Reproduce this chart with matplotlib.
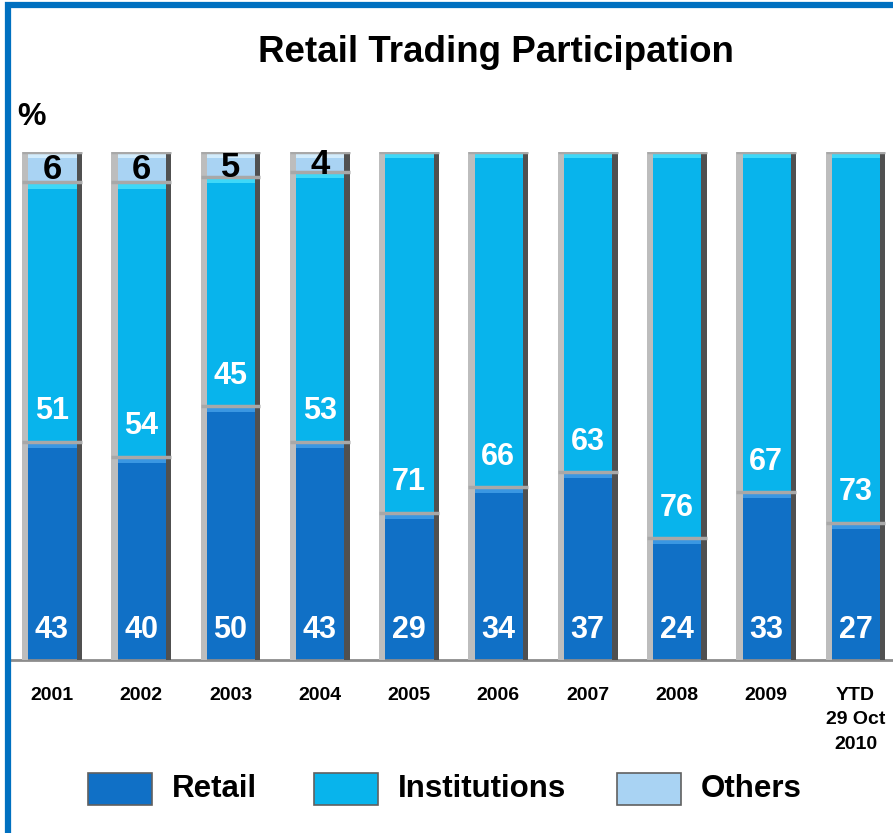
import numpy as np
import matplotlib.pyplot as plt
from matplotlib.patches import Rectangle

years = ["2001", "2002", "2003", "2004", "2005", "2006", "2007", "2008", "2009",
         "YTD\n29 Oct\n2010"]
retail = [43, 40, 50, 43, 29, 34, 37, 24, 33, 27]
institutions = [51, 54, 45, 53, 71, 66, 63, 76, 67, 73]
others = [6, 6, 5, 4, 0, 0, 0, 0, 0, 0]

c_retail = "#1070C6"
c_inst = "#08B4EC"
c_others = "#A9D3F3"
top_retail = "#3A97E2"
top_inst = "#3ED8F8"
top_others = "#D2ECFC"

plt.rcParams["font.family"] = ["Liberation Sans", "DejaVu Sans"]

fig = plt.figure(figsize=(8.93, 8.33), dpi=100)
ax = fig.add_axes([10/893, 1 - 660/833, 883/893, 508/833])

x = np.arange(len(years))
w = 0.67


def seg(xc, y0, h, face, top):
    # one bevelled segment
    ax.bar(xc, h, w, bottom=y0, color=face, edgecolor="none", zorder=2)
    bev = min(1.2, h * 0.3)
    ax.bar(xc, bev, w, bottom=y0 + h - bev, color=top, edgecolor="none", zorder=3)
    # side rims
    ax.bar(xc - w/2 + 0.035, h, 0.07, bottom=y0, color="#BDBDBD", edgecolor="none", zorder=4)
    ax.bar(xc + w/2 - 0.03, h, 0.06, bottom=y0, color="#505050", edgecolor="none", zorder=4)
    # top separator
    ax.plot([xc - w/2, xc + w/2], [y0 + h, y0 + h], color="#A8A8A8", lw=2.5,
            zorder=5, solid_capstyle="butt")


for i in x:
    seg(i, 0, retail[i], c_retail, top_retail)
    seg(i, retail[i], institutions[i], c_inst, top_inst)
    if others[i] > 0:
        seg(i, retail[i] + institutions[i], others[i], c_others, top_others)
        ax.text(i, retail[i] + institutions[i] + others[i] / 2 - 0.5, str(others[i]),
                ha="center", va="center", fontsize=25, fontweight="bold",
                color="black", zorder=6)
    ax.text(i, 6, str(retail[i]), ha="center", va="center", fontsize=22,
            fontweight="bold", color="white", zorder=6)
    ax.text(i, retail[i] + 6, str(institutions[i]), ha="center", va="center",
            fontsize=22, fontweight="bold", color="white", zorder=6)

ax.set_xlim(-0.47, 9.42)
ax.set_ylim(0, 100)
for s in ["top", "right", "left"]:
    ax.spines[s].set_visible(False)
ax.spines["bottom"].set_color("#8C8C8C")
ax.spines["bottom"].set_linewidth(2)
ax.set_yticks([])
ax.set_xticks(x)
ax.set_xticklabels(years, fontsize=14, fontweight="bold",
                   va="top", linespacing=1.57)
ax.tick_params(axis="x", length=0, pad=19.5)

fig.text(496/893, 1 - 52/833, "Retail Trading Participation", ha="center",
         va="center", fontsize=26.5, fontweight="bold")
fig.text(17/893, 1 - 117/833, "%", ha="left", va="center", fontsize=23,
         fontweight="bold")

# legend
leg_items = [("Retail", c_retail, 88), ("Institutions", c_inst, 314),
             ("Others", c_others, 617)]
for name, col, px in leg_items:
    fig.patches.append(Rectangle((px/893, 1 - 805/833), 64/893, 32/833,
                                 transform=fig.transFigure, facecolor=col,
                                 edgecolor="#606060", lw=1.2))
    fig.text((px + 84)/893, 1 - 789/833, name, ha="left", va="center",
             fontsize=22.5, fontweight="bold")

# blue frame
fig.patches.append(Rectangle((7.5/893, -0.1), 1.2, 1 - 5.5/833 + 0.1,
                             transform=fig.transFigure, fill=False,
                             edgecolor="#0070C0", lw=4.5))

fig.savefig("out.png", dpi=100)
